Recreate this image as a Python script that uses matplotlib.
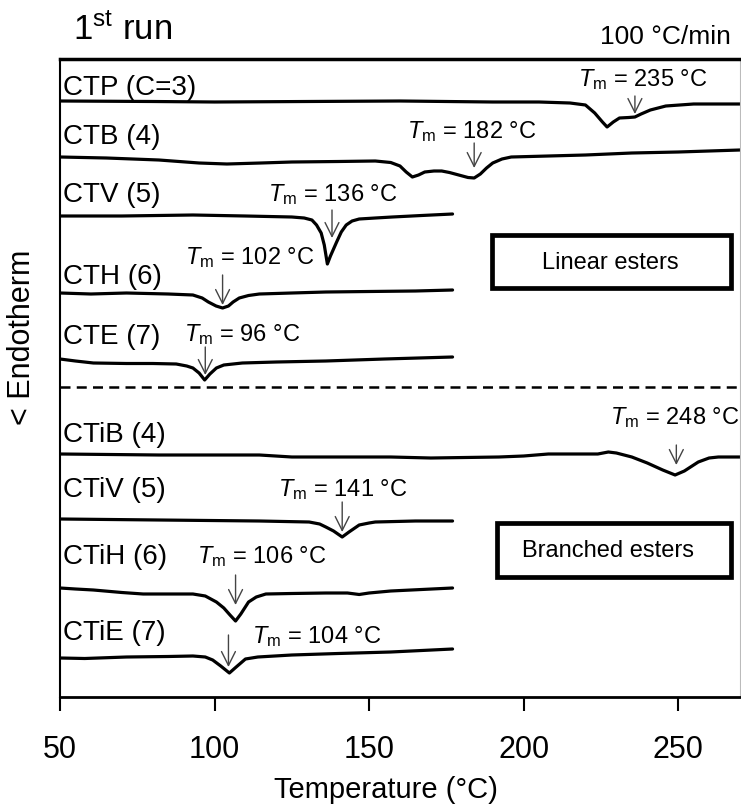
import matplotlib
matplotlib.use('Agg')
import matplotlib.pyplot as plt
from matplotlib.patches import Rectangle

plt.rcParams['font.family'] = ['Liberation Sans', 'DejaVu Sans']
plt.rcParams['mathtext.fontset'] = 'custom'
plt.rcParams['mathtext.rm'] = 'Liberation Sans'
plt.rcParams['mathtext.it'] = 'Liberation Sans:italic'

# sample names (top to bottom)
names = ['CTP (C=3)', 'CTB (4)', 'CTV (5)', 'CTH (6)', 'CTE (7)',
         'CTiB (4)', 'CTiV (5)', 'CTiH (6)', 'CTiE (7)']
tm_values = [235, 182, 136, 102, 96, 248, 141, 106, 104]
offsets = [596, 540, 481, 404, 338, 243, 178, 109, 39]

# DSC traces, temperature (C) and heat flow (a.u., relative to start)
ctp_t = [50, 80, 100, 130, 160, 190, 205, 215, 220, 223, 225.5, 227, 229, 231, 234, 236, 238, 241, 246, 255, 270]
ctp_y = [0, -0.5, -1, -0.5, 0, -1, -1, -2, -4, -12, -21, -26, -21, -17, -16.5, -16, -13, -9, -5, -3, -3]

ctb_t = [50, 65, 82, 95, 104, 115, 125, 140, 152, 157, 160, 162, 164, 166, 168, 171, 173.5, 176, 179, 182, 184,
         186, 188, 190, 193, 196, 202, 208, 220, 235, 250, 270]
ctb_y = [0, -1, -3, -6, -7, -6, -5, -4.5, -4, -5.5, -9, -15, -20, -18, -15, -14, -14, -15.5, -18, -20.5, -21,
         -17, -11, -6, -2, 0, 0.5, 1, 2, 4, 5, 7]

ctv_t = [50, 70, 93, 110, 125, 129, 131.5, 133, 134.5, 135.5, 136.5, 137.5, 139.5, 141, 142.6, 144.5, 146.8,
         152, 157.5, 167, 177]
ctv_y = [0, 0, 1, 0, -1, -2, -4, -9, -17, -29, -48, -40, -26, -16, -9, -5, -3, -2, -1, 0.5, 2]

cth_t = [50, 60, 71.5, 85, 93, 96, 98, 100.5, 102.6, 104.5, 106, 108, 111, 114.5, 125, 136, 150, 165, 177]
cth_y = [0, -1, 0, -1, -2, -5, -9, -13, -15, -13, -9, -5, -2.5, -1, 0, 1, 1.5, 2, 3]

cte_t = [50, 55, 60.8, 71.5, 80, 87.6, 91, 93, 95, 96.8, 98.5, 100.6, 103, 109, 120, 136, 155, 177]
cte_y = [0, -2, -4, -4.5, -4.5, -5, -7, -9, -14, -21, -15, -9, -6, -4, -3, -2, 0, 2]

ctib_t = [50, 82, 114.5, 125, 157, 170, 192, 200, 208, 224, 227.4, 230, 235, 240, 245, 249, 252, 256.5, 260, 263, 270]
ctib_y = [0, -1, -1, -3, -3, -4, -3, -2, 0, 0, 2, 1, -3, -9, -16, -21, -17, -8, -4, -3, -3]

ctiv_t = [50, 82, 114.5, 130.6, 134, 136, 138.5, 141.3, 143.5, 146.8, 150, 152, 165, 177]
ctiv_y = [0, -1, -2, -3, -5, -8, -12, -18, -13, -6, -4, -3, -2, -2]

ctih_t = [50, 55, 60.8, 70, 76.9, 85, 93, 97, 100.6, 103, 105, 106.8, 108.5, 111, 113.5, 116.6, 125, 136, 143,
          146.8, 150, 157, 167, 177]
ctih_y = [0, -1, -2, -4.5, -6, -6, -6, -8, -14, -20, -27, -33, -26, -14, -9, -6, -5.5, -5, -5, -6.5, -5, -3,
          -1.5, 0]

ctie_t = [50, 58, 71.5, 85, 93, 97, 99.4, 102, 104.8, 107, 110, 114, 125, 140, 157, 167, 177]
ctie_y = [0, -0.5, 1, 1.5, 2, 1, -2, -8, -15, -9, -1, 1, 3, 4.5, 6, 7.5, 9]

temps = [ctp_t, ctb_t, ctv_t, cth_t, cte_t, ctib_t, ctiv_t, ctih_t, ctie_t]
signals = [ctp_y, ctb_y, ctv_y, cth_y, cte_y, ctib_y, ctiv_y, ctih_y, ctie_y]

# label / annotation placement
name_y = [609, 560, 502, 420, 360, 262, 207, 140, 64]
tm_text_x = [217.7, 162.3, 117.4, 90.3, 90.0, 228.0, 120.6, 94.2, 112.0]
tm_text_y = [617, 565, 502, 439, 362, 279, 207, 140, 60]
arrow_x = [236, 184, 138, 102.6, 97, 249.4, 141.3, 106.8, 104.5]
arrow_top = [601, 554, 487, 422, 350, 252, 195, 122, 62]
arrow_tip = [583, 529, 459, 392, 322, 232, 165, 92, 30]

fig = plt.figure(figsize=(7.41, 8.07), dpi=100)
ax = fig.add_axes([60 / 741, 1 - 697 / 807, 1 - 60 / 741 - 1 / 741, (697 - 59) / 807])

for t, s, off in zip(temps, signals, offsets):
    ax.plot(t, [v + off for v in s], color='black', lw=2.3, solid_joinstyle='round', solid_capstyle='round')

for i in range(len(names)):
    ax.text(51, name_y[i], names[i], fontsize=20, ha='left', va='center')
    ax.text(tm_text_x[i], tm_text_y[i], r'$\it{T}_{\rm m}$ = %d °C' % tm_values[i],
            fontsize=17, ha='left', va='center')
    ax.annotate('', xy=(arrow_x[i], arrow_tip[i]), xytext=(arrow_x[i], arrow_top[i]),
                arrowprops=dict(arrowstyle='->,head_length=0.5,head_width=0.25', color='#444444',
                                lw=1.0, mutation_scale=20, shrinkA=0, shrinkB=0))

ax.axhline(310, color='black', lw=1.8, linestyle=(0, (4, 2.5)))

ax.add_patch(Rectangle((189.7, 409), 77.4, 53, fill=False, lw=3.4, edgecolor='black'))
ax.text(228.0, 434.5, 'Linear esters', fontsize=17, ha='center', va='center')
ax.add_patch(Rectangle((191.3, 120), 75.8, 54, fill=False, lw=3.4, edgecolor='black'))
ax.text(227.4, 146, 'Branched esters', fontsize=17, ha='center', va='center')

ax.set_xlim(50, 270)
ax.set_ylim(0, 638)
ax.set_xticks([50, 100, 150, 200, 250])
ax.set_yticks([])
ax.spines['right'].set_linewidth(0.8)
ax.spines['right'].set_color('#bbbbbb')
ax.spines['top'].set_linewidth(2.5)
ax.spines['bottom'].set_linewidth(2.0)
ax.spines['left'].set_linewidth(1.5)
ax.tick_params(axis='x', direction='out', length=10, width=1.5, pad=17, labelsize=22)

fig.text(386 / 741, 1 - 790 / 807, 'Temperature (°C)', fontsize=21, ha='center', va='center')
fig.text(22 / 741, 1 - 337 / 807, '< Endotherm', fontsize=22, rotation=90, ha='center', va='center')
fig.text(73 / 741, 1 - 30 / 807, r'1$^{\rm st}$ run', fontsize=25, ha='left', va='center')
fig.text(731 / 741, 1 - 37 / 807, '100 °C/min', fontsize=19, ha='right', va='center')

fig.savefig('out.png', dpi=100)
